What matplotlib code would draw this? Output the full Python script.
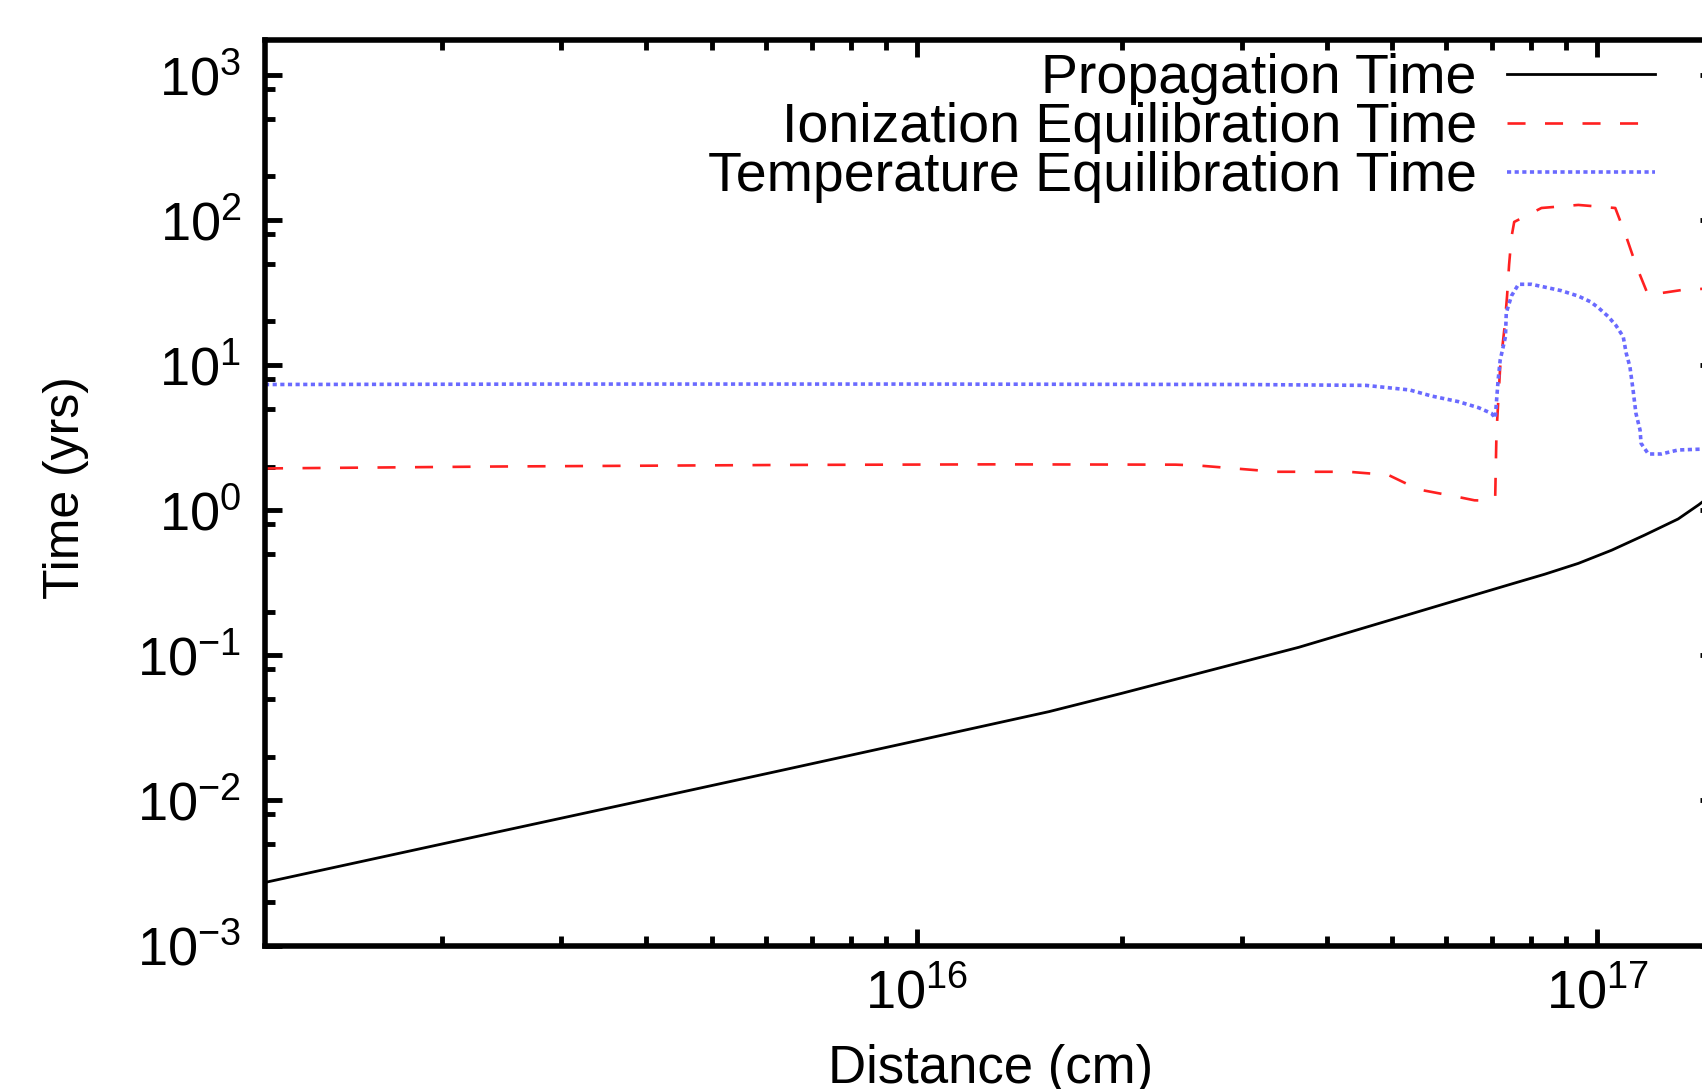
import matplotlib
matplotlib.use("Agg")
import matplotlib.pyplot as plt
from matplotlib.ticker import LogLocator, NullFormatter

plt.rcParams['font.family'] = ['Liberation Sans', 'DejaVu Sans']
plt.rcParams['mathtext.fontset'] = 'custom'
plt.rcParams['mathtext.rm'] = 'Liberation Sans'
plt.rcParams['mathtext.it'] = 'Liberation Sans:italic'
plt.rcParams['mathtext.bf'] = 'Liberation Sans:bold'
plt.rcParams['lines.scale_dashes'] = False

# ---- data (distance in cm, times in years) ----
prop_x = [1.1e15, 2.0e15, 4.0e15, 6.28e15, 1.0e16, 1.563e16, 2.0e16, 3.64e16,
          6.13e16, 7.48e16, 8.37e16, 9.38e16, 1.05e17, 1.175e17, 1.315e17,
          1.41e17, 1.5e17]
prop_y = [2.72e-3, 5.0e-3, 1.01e-2, 1.60e-2, 2.58e-2, 4.09e-2, 5.47e-2, 0.1135,
          0.235, 0.31, 0.362, 0.43, 0.53, 0.675, 0.87,
          1.09, 1.36]

ion_x = [1.1e15, 2.4e15, 6.3e15, 1.3e16, 2.4e16, 2.6e16, 2.97e16, 3.37e16,
         4.31e16, 4.93e16, 5.46e16, 6.21e16, 6.6e16, 6.99e16, 7.08e16, 7.11e16,
         7.20e16, 7.30e16, 7.37e16, 7.42e16, 7.48e16, 7.55e16, 8.28e16, 9.38e16,
         1.063e17, 1.104e17, 1.14e17, 1.188e17, 1.33e17, 1.5e17]
ion_y = [1.94, 2.0, 2.05, 2.07, 2.06, 2.03, 1.93, 1.84,
         1.84, 1.75, 1.39, 1.24, 1.17, 1.16, 1.25, 3.4,
         9.7, 17.5, 30.0, 49.0, 76.0, 97.0, 121.0, 127.0,
         121.0, 76.0, 49.0, 30.4, 32.9, 34.0]

temp_x = [1.1e15, 3.0e15, 1.0e16, 3.0e16, 4.57e16, 5.3e16, 5.71e16, 6.25e16,
          6.69e16, 6.99e16, 7.08e16, 7.15e16, 7.20e16, 7.33e16, 7.35e16,
          7.48e16, 7.66e16, 8.0e16, 8.39e16, 8.85e16, 9.38e16, 9.77e16, 1.0035e17,
          1.038e17, 1.066e17, 1.092e17, 1.103e17, 1.117e17, 1.129e17, 1.14e17,
          1.156e17, 1.16e17, 1.189e17, 1.242e17, 1.315e17, 1.406e17, 1.5e17]
temp_y = [7.35, 7.4, 7.4, 7.35, 7.25, 6.74, 6.12, 5.6,
          5.09, 4.65, 4.32, 7.89, 10.84, 15.7, 22.9,
          30.0, 36.06, 36.06, 34.4, 32.6, 29.9, 27.35, 24.9,
          21.6, 18.7, 15.69, 12.1, 9.75, 6.74, 4.65,
          3.57, 2.89, 2.44, 2.44, 2.60, 2.63, 2.65]

labels = ["Propagation Time", "Ionization Equilibration Time",
          "Temperature Equilibration Time"]

W, H = 1702, 1089
fig = plt.figure(figsize=(W / 100, H / 100), dpi=100)
ax = fig.add_axes([265 / W, 1 - 945.5 / H, (1717 - 265) / W, (945.5 - 40) / H])

ax.plot(prop_x, prop_y, color='black', lw=2.0, label=labels[0])
ax.plot(ion_x, ion_y, color='#ff2020', lw=1.9, dashes=(13, 14), label=labels[1])
ax.plot(temp_x, temp_y, color='#6a6aff', lw=2.6, dashes=(3, 2.5), label=labels[2])

ax.set_xscale('log')
ax.set_yscale('log')
ax.set_xlim(1.1e15, 1.5e17)
ax.set_ylim(1e-3, 1740)

ax.yaxis.set_minor_locator(LogLocator(base=10, subs=(2.0, 5.0, 8.0), numticks=50))
ax.yaxis.set_minor_formatter(NullFormatter())
ax.xaxis.set_minor_locator(LogLocator(base=10, subs=tuple(range(2, 10)), numticks=50))
ax.xaxis.set_minor_formatter(NullFormatter())

for s in ax.spines.values():
    s.set_linewidth(4.0)
ax.tick_params(which='both', direction='in', top=True, right=True, width=3.5,
               labelsize=39)
ax.tick_params(which='major', length=12.5)
ax.tick_params(which='minor', length=7.5)
ax.tick_params(axis='y', which='major', pad=17)
ax.tick_params(axis='x', which='major', pad=16)

ax.set_xlabel("Distance (cm)", fontsize=38, labelpad=18)
ax.set_ylabel("Time (yrs)", fontsize=36)
ax.yaxis.set_label_coords(-0.121, 0.506)

ax.legend(loc='upper right', bbox_to_anchor=(1655 / W, 1 - 53 / H),
          bbox_transform=fig.transFigure, frameon=False, markerfirst=False,
          handlelength=2.66, handletextpad=0.55, labelspacing=-0.05,
          borderpad=0, borderaxespad=0, fontsize=40)

fig.savefig("out.png", dpi=100)
